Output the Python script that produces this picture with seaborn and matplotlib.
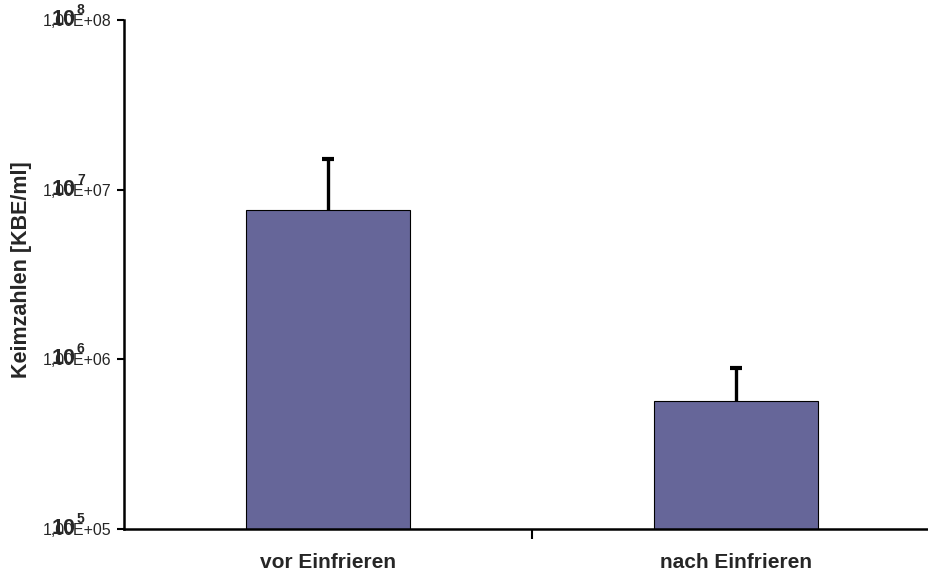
import numpy as np
import pandas as pd
import seaborn as sns
import matplotlib.pyplot as plt
from matplotlib.ticker import NullLocator, FixedLocator

# Germ counts before / after freezing (log scale)
categories = ["vor Einfrieren", "nach Einfrieren"]
means = [7.6e6, 5.7e5]
upper_err = [1.52e7 - 7.6e6, 8.85e5 - 5.7e5]
ytick_vals = [1e5, 1e6, 1e7, 1e8]
ytick_labels = ["1,00E+05", "1,00E+06", "1,00E+07", "1,00E+08"]
ytick_exps = ["5", "6", "7", "8"]

sns.set_style("white")
plt.rcParams['font.family'] = ['Liberation Sans', 'DejaVu Sans']

df = pd.DataFrame({"Kategorie": categories, "KBE": means})

fig = plt.figure(figsize=(9.29, 5.72), dpi=100)
ax = fig.add_axes([124 / 929, 43 / 572, 816 / 929, 509 / 572])

sns.barplot(data=df, x="Kategorie", y="KBE", color="#666699", saturation=1,
            width=0.4, edgecolor="black", linewidth=0.8, ax=ax, log_scale=True)

# upward error bars only (Excel style), cap only on top
xpos = np.arange(len(categories))
tops = np.array(means) + np.array(upper_err)
ax.vlines(xpos, means, tops, color="black", linewidth=2.4, zorder=3)
ax.plot(xpos, tops, linestyle="none", marker="_", markersize=8,
        markeredgewidth=3, color="black", zorder=3)

ax.set_yscale("log")
ax.set_ylim(1e5, 1e8)
ax.set_xlim(-0.5, 1.5)

# spines
for s in ["top", "right"]:
    ax.spines[s].set_visible(False)
for s in ["left", "bottom"]:
    ax.spines[s].set_color("black")
    ax.spines[s].set_linewidth(1.8)

# y ticks
ax.yaxis.set_major_locator(FixedLocator(ytick_vals))
ax.yaxis.set_minor_locator(NullLocator())
ax.set_yticklabels(ytick_labels, fontsize=11.5)
ax.tick_params(axis="y", which="major", direction="out", length=5, width=1.5,
               color="black", left=True, pad=4)

# bold "10^n" overlaid on the tick labels
ytrans = ax.get_yaxis_transform()
for v, e in zip(ytick_vals, ytick_exps):
    ax.annotate("10", xy=(0, v), xycoords=ytrans, xytext=(-48, -5),
                textcoords="offset pixels", ha="right", va="baseline",
                fontsize=15.5, fontweight="bold", annotation_clip=False)
    ax.annotate(e, xy=(0, v), xycoords=ytrans, xytext=(-47, 6),
                textcoords="offset pixels", ha="left", va="baseline",
                fontsize=10, fontweight="bold", annotation_clip=False)

# x ticks: labels at categories, tick marks between them
ax.set_xticks(range(len(categories)))
ax.set_xticklabels(categories, fontsize=15, fontweight="bold")
ax.xaxis.set_minor_locator(FixedLocator([0.5, 1.5]))
ax.tick_params(axis="x", which="major", length=0, pad=17)
ax.tick_params(axis="x", which="minor", direction="out", length=7, width=1.5,
               color="black", bottom=True)

ax.set_xlabel("")
ax.set_ylabel("Keimzahlen [KBE/ml]", fontsize=15.5, fontweight="bold")
ax.yaxis.set_label_coords(-0.113, 0.51)

fig.savefig("out.png", dpi=100)
